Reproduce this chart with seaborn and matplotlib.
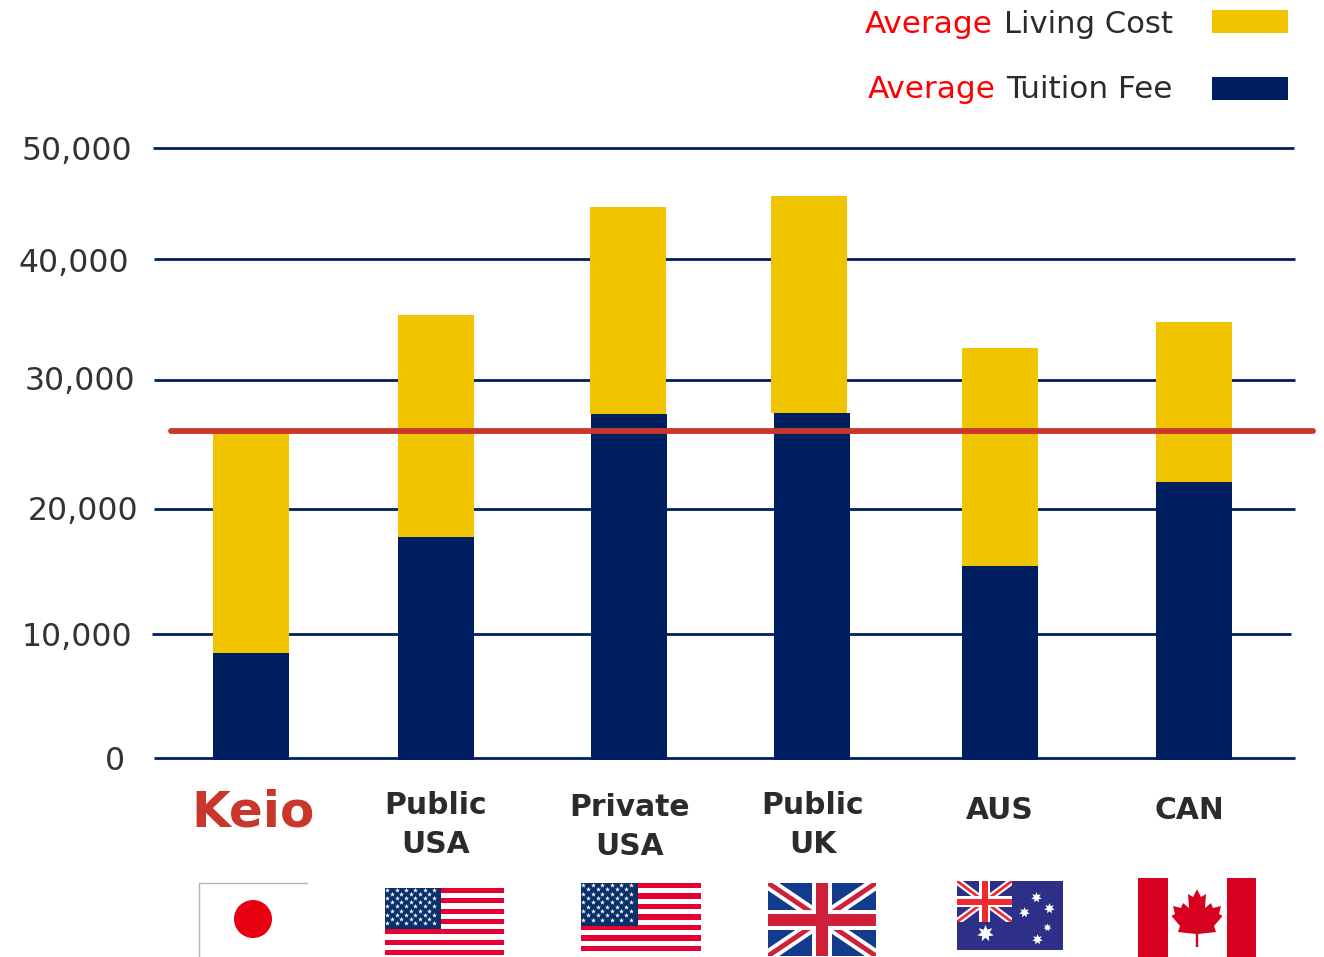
import numpy as np
import pandas as pd
import matplotlib
matplotlib.use("Agg")
import matplotlib.pyplot as plt
from matplotlib.patches import Rectangle, Circle, Polygon
from matplotlib.transforms import ScaledTranslation
import seaborn as sns

# ---- data ----
categories = ["Keio", "Public\nUSA", "Private\nUSA", "Public\nUK", "AUS", "CAN"]
tuition_fee = [8600, 18100, 28200, 28300, 15700, 22600]
living_cost = [18200, 18200, 17000, 17800, 17900, 13100]
keio_reference = 26800
tick_labels = ["0", "10,000", "20,000", "30,000", "40,000", "50,000"]
# the drawn gridlines are not evenly spaced in the source
tick_values = [0, 10170, 20410, 30980, 40900, 50000]

# ---- layout (pixels) ----
W, H = 1324, 957
NAVY, GOLD, RED_LINE, TEXT = "#001F60", "#F0C500", "#C8372A", "#333333"
centers_total = [251, 436, 628, 809, 1000, 1194]
centers_tuition = [251, 436, 629, 812, 1000, 1194]
label_centers = [253, 436, 630, 813, 1000, 1189]
label_dy = [0, 2, 4, 2, 7, 7]
grid_x = [(154, 1295), (152, 1291), (154, 1295), (154, 1295), (154, 1295), (153, 1294)]
tick_dx = [-6, 1, 7, 4, -2, 1]
tick_dy = [0, 0, -1, -2, 1, 0]
tick_right = 131
BAR_W = 76

sns.set_theme(style="white")
plt.rcParams["font.family"] = ["DejaVu Sans"]
fig = plt.figure(figsize=(W / 100, H / 100), dpi=100)
ax = fig.add_axes([0, 1 - 758 / H, 1, (758 - 148) / H])


def native_width(centers):
    return BAR_W / np.diff(centers).min()


dl = pd.DataFrame({"x": centers_total, "living": living_cost})
dt = pd.DataFrame({"x": centers_tuition, "fee": tuition_fee})
sns.barplot(data=dl, x="x", y="living", native_scale=True, color=GOLD, saturation=1,
            width=native_width(centers_total), ax=ax, zorder=3, linewidth=0,
            bottom=tuition_fee)
n_gold = len(ax.patches)
sns.barplot(data=dt, x="x", y="fee", native_scale=True, color=NAVY, saturation=1,
            width=native_width(centers_tuition), ax=ax, zorder=4, linewidth=0)
# the navy bars run a little below the baseline in the source
for p in ax.patches[n_gold:]:
    p.set_height(p.get_height() + 160)
    p.set_y(p.get_y() - 160)
    p.set_clip_on(False)

ax.set_xlim(0, W)
ax.set_ylim(0, 50000)
ax.set_xlabel("")
ax.set_ylabel("")
for s in ax.spines.values():
    s.set_visible(False)
ax.patch.set_alpha(0)

for v, (x0, x1) in zip(tick_values, grid_x):
    ax.plot([x0, x1], [v, v], color=NAVY, lw=2.0, zorder=2, clip_on=False,
            solid_capstyle="butt")
ax.plot([171, 1313], [keio_reference, keio_reference], color=RED_LINE, lw=4.2,
        zorder=5, solid_capstyle="round", clip_on=False)

# y tick labels, shifted inward as in the source
ax.set_yticks(tick_values, tick_labels)
ax.tick_params(axis="y", length=0, pad=-tick_right * 0.72, labelsize=22.7, labelcolor=TEXT)
for lab, dx, dy in zip(ax.get_yticklabels(), tick_dx, tick_dy):
    lab.set_ha("right")
    lab.set_transform(lab.get_transform() + ScaledTranslation(dx / 100, -dy / 100, fig.dpi_scale_trans))

# x tick labels
ax.set_xticks(label_centers, categories)
ax.tick_params(axis="x", length=0, pad=22, labelsize=21.4, labelcolor="#2B2B2B")
for i, (lab, dy) in enumerate(zip(ax.get_xticklabels(), label_dy)):
    lab.set_fontweight("bold")
    lab.set_linespacing(1.44)
    if i == 0:
        lab.set_fontsize(36)
        lab.set_color(RED_LINE)
    lab.set_transform(lab.get_transform() + ScaledTranslation(0, -dy / 100, fig.dpi_scale_trans))

# ---- overlay in pixel coordinates: legend and flags ----
ov = fig.add_axes([0, 0, 1, 1], zorder=10)
ov.set_xlim(0, W)
ov.set_ylim(H, 0)
ov.axis("off")
ov.patch.set_alpha(0)

LEG = 22.4
ov.text(865, 33, "Average", color="#FF0000", fontsize=LEG, va="baseline")
ov.text(1173, 33, "Living Cost", color="#2B2B2B", fontsize=LEG - 0.3, va="baseline", ha="right")
ov.text(868, 98, "Average", color="#FF0000", fontsize=LEG, va="baseline")
ov.text(1173, 98, "Tuition Fee", color="#2B2B2B", fontsize=LEG, va="baseline", ha="right")
ov.add_patch(Rectangle((1212, 10), 76, 23, fc=GOLD, ec="none"))
ov.add_patch(Rectangle((1212, 77), 76, 23, fc=NAVY, ec="none"))


def rect(x0, y0, x1, y1, c, z=1):
    return ov.add_patch(Rectangle((x0, y0), x1 - x0, y1 - y0, fc=c, ec="none", zorder=z))


# Japan
ov.plot([199, 199, 307], [957, 883, 883], color="#B5B5B5", lw=1)
ov.add_patch(Circle((253, 919), 19, fc="#E60012", ec="none"))


def usa(x0, y0, x1, y1, cx, cy):
    h = (y1 - y0) / 13
    for i in range(0, 13, 2):
        rect(x0, y0 + i * h, x1, y0 + (i + 1) * h, "#E60033")
    rect(x0, y0, cx, cy, "#0A3069", 2)
    dx, dy = (cx - x0) / 12, (cy - y0) / 10
    pts = [(x0 + (c + .5) * dx, y0 + (r + .5) * dy)
           for r in range(9) for c in range(11)
           if (c + r) % 2 == 0]
    px, py = zip(*pts)
    ov.scatter(px, py, marker="*", s=14, c="white", linewidths=0, zorder=3)


usa(385, 888, 504, 955, 441, 929)
usa(581, 883, 701, 951, 638, 926)


def union_jack(x0, y0, x1, y1, blue, red, w_d, r_d, w_c, r_c):
    clip = rect(x0, y0, x1, y1, blue, 1)
    for seg in (((x0, y0), (x1, y1)), ((x0, y1), (x1, y0))):
        l1, = ov.plot(*zip(*seg), color="white", lw=w_d, zorder=2, solid_capstyle="butt")
        l2, = ov.plot(*zip(*seg), color=red, lw=r_d, zorder=3, solid_capstyle="butt")
        l1.set_clip_path(clip)
        l2.set_clip_path(clip)
    xm, ym = (x0 + x1) / 2, (y0 + y1) / 2
    for wid, c, z in ((w_c, "white", 4), (r_c, red, 5)):
        rect(xm - wid / 2, y0, xm + wid / 2, y1, c, z)
        rect(x0, ym - wid / 2, x1, ym + wid / 2, c, z)


union_jack(768, 883, 876, 956, "#123B8E", "#CF2039", 9, 3.5, 20, 12)

# Australia
AUS_BLUE = "#2E2F86"
rect(957, 881, 1063, 950, AUS_BLUE, 0)
union_jack(957, 881, 1012, 922, "#2E2F86", "#EE2A32", 5, 2, 11, 6)
stars = [(985, 933, 150), (1036, 897, 60), (1049, 908, 60), (1024, 912, 60), (1047, 927, 35), (1037, 939, 60)]
for sx, sy, ss in stars:
    ov.scatter([sx], [sy], marker=(7, 1, 0), s=ss, c="white", linewidths=0, zorder=6)

# Canada
CAN = "#D7001F"
rect(1138, 878, 1168, 957, CAN)
rect(1227, 878, 1256, 957, CAN)
half_leaf = [(0, 889.3), (4, 897), (9, 894), (8, 908), (14, 903), (16, 908),
             (24, 906), (22, 914), (25.5, 916), (17, 926), (19, 932), (1.2, 934), (1.2, 947)]
leaf = [(1197 + d, y) for d, y in half_leaf] + [(1197 - d, y) for d, y in half_leaf[:0:-1]]
ov.add_patch(Polygon(leaf, closed=True, fc=CAN, ec="none"))

fig.savefig("out.png", dpi=100, facecolor="white")
